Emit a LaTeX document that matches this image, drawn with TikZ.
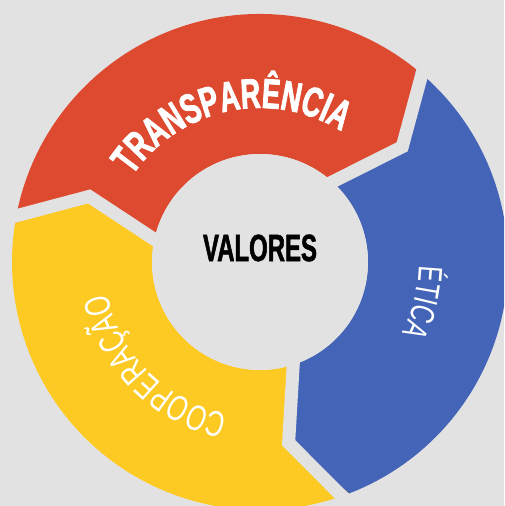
\documentclass[tikz,border=0pt]{standalone}
\usepackage{fontspec}
\usetikzlibrary{decorations.text}
\newfontfamily\trfont[FakeStretch=0.65, FakeBold=1.8]{Liberation Sans Bold}
\newfontfamily\valfont[FakeStretch=0.63, FakeBold=1.4]{Liberation Sans Bold}
\newfontfamily\litefont[FakeStretch=0.70]{Liberation Sans}
\definecolor{bgc}{HTML}{E3E2E2}
\definecolor{redc}{HTML}{DD4A30}
\definecolor{bluec}{HTML}{4465B7}
\definecolor{yelc}{HTML}{FCCA23}
\tikzset{
  gap/.style={draw=bgc, line width=13pt, miter limit=10, line join=miter},
  arctext/.style={decorate, decoration={text along path, text align=center, text color=white}}
}
\begin{document}
\begin{tikzpicture}
\useasboundingbox (-260pt,-244pt) rectangle (244pt,262pt);
\clip (-260pt,-244pt) rectangle (244pt,262pt);
\fill[bgc] (-260pt,-244pt) rectangle (244pt,262pt);
% red segment (TRANSPARENCIA)
\fill[redc] (171:248pt) arc[start angle=171, end angle=51, radius=248pt] -- (39:183pt) -- (51:108pt)
  arc[start angle=51, end angle=171, radius=108pt] -- (159:183pt) -- cycle;
% blue segment (ETICA)
\fill[bluec] (51:248pt) arc[start angle=51, end angle=-69, radius=248pt] -- (-81:183pt) -- (-69:108pt)
  arc[start angle=-69, end angle=51, radius=108pt] -- (39:183pt) -- cycle;
% yellow segment (COOPERACAO)
\fill[yelc] (291:248pt) arc[start angle=291, end angle=171, radius=248pt] -- (159:183pt) -- (171:108pt)
  arc[start angle=171, end angle=291, radius=108pt] -- (279:183pt) -- cycle;
% gaps
\draw[gap] (51:265pt) -- (39:183pt) -- (51:95pt);
\draw[gap] (171:265pt) -- (159:183pt) -- (171:95pt);
\draw[gap] (291:265pt) -- (279:183pt) -- (291:95pt);
\fill[bgc] (0,0) circle[radius=108pt];
% texts
\path[arctext, decoration={text={|\trfont\fontsize{42pt}{46pt}\selectfont|TRANSPARÊNCIA}}]
  (170:154pt) arc[start angle=170, end angle=34, radius=154pt];
\path[arctext, decoration={text={|\litefont\fontsize{34pt}{38pt}\selectfont|ÉTICA}}]
  (30:159pt) arc[start angle=30, end angle=-58, radius=159pt];
\path[arctext, decoration={text={|\litefont\fontsize{36pt}{40pt}\selectfont|COOPERAÇÃO}}]
  (-75:156pt) arc[start angle=-75, end angle=-195, radius=156pt];
\node (valores) at (0pt,14pt) {\valfont\fontsize{38pt}{42pt}\selectfont VALORES};
\end{tikzpicture}
\end{document}
